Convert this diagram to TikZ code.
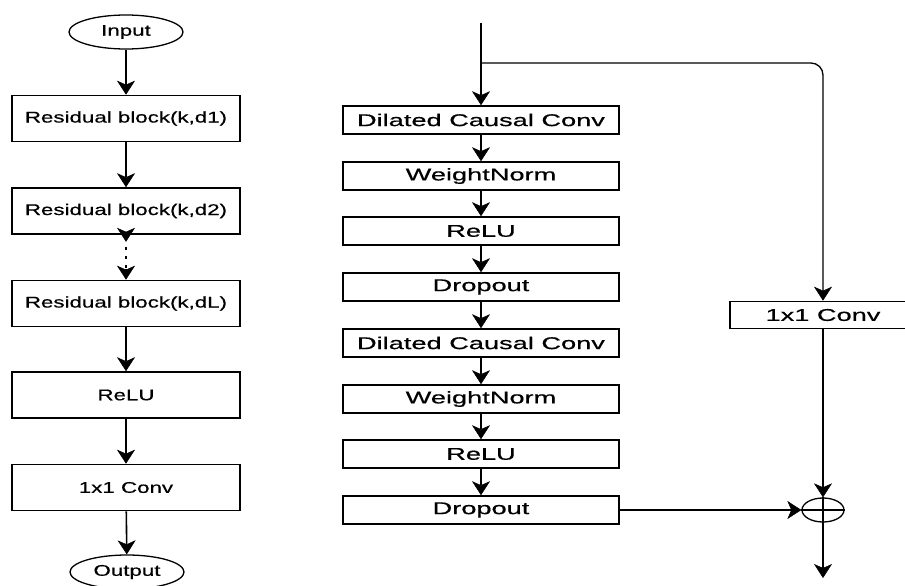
\documentclass[tikz,border=0pt]{standalone}
\usepackage{fontspec}
\setmainfont{Liberation Sans}
\newfontfamily\lfont[FakeStretch=1.44,FakeBold=0.6]{Liberation Sans}
\newfontfamily\mfont[FakeStretch=1.6,FakeBold=0.6]{Liberation Sans}
\usetikzlibrary{arrows.meta,shapes.geometric}
\tikzset{
  lbox/.style={draw, line width=1.6pt, minimum width=228pt, minimum height=46pt, inner sep=0pt,
    font=\lfont\fontsize{15.5}{18}\selectfont},
  lell/.style={draw, ellipse, line width=1.3pt, minimum width=114pt, minimum height=34pt, inner sep=0pt,
    font=\lfont\fontsize{15.5}{18}\selectfont},
  mbox/.style={draw, line width=1.6pt, minimum width=276pt, minimum height=28pt, inner sep=0pt,
    font=\mfont\fontsize{17}{20}\selectfont},
  arr/.style={line width=1.6pt, -{Stealth[length=14pt,width=18pt,inset=4pt,line width=0.5pt]}},
  thinarr/.style={line width=1.3pt, -{Stealth[length=14pt,width=18pt,inset=4pt,line width=0.5pt]}},
}
\begin{document}
\begin{tikzpicture}[x=1pt,y=1pt]
\useasboundingbox (0,0) rectangle (905,-586);
% left column
\node[lell] (in) at (126,-32) {Input};
\node[lbox] (b1) at (126,-118.5) {Residual block(k,d1)};
\node[lbox] (b2) at (126,-211) {Residual block(k,d2)};
\node[lbox] (b3) at (126,-303.5) {Residual block(k,dL)};
\node[lbox] (lr) at (126,-395) {ReLU};
\node[lbox] (lc) at (126,-487.5) {1x1 Conv};
\node[lell] (out) at (127,-572) {Output};
\draw[arr] (in) -- (b1);
\draw[arr] (b1) -- (b2);
\draw[line width=2.2pt, dash pattern=on 3pt off 6pt] ([yshift=-12pt]b2.south) -- ([yshift=-34pt]b2.south);
\draw[arr] (b2.south) -- ++(0,-7);
\draw[arr] ([yshift=-34pt]b2.south) -- (b3.north);
\draw[arr] (b3) -- (lr);
\draw[arr] (lr) -- (lc);
\draw[arr] (lc) -- (out);
% middle column
\node[mbox] (m1) at (481,-120) {Dilated Causal Conv};
\node[mbox] (m2) at (481,-176) {WeightNorm};
\node[mbox] (m3) at (481,-231) {ReLU};
\node[mbox] (m4) at (481,-287) {Dropout};
\node[mbox] (m5) at (481,-343) {Dilated Causal Conv};
\node[mbox] (m6) at (481,-399) {WeightNorm};
\node[mbox] (m7) at (481,-454) {ReLU};
\node[mbox] (m8) at (481,-510) {Dropout};
\coordinate (top) at (481,-23);
\coordinate (split) at (481,-63);
\draw[arr] (top) -- (m1);
\draw[arr] (m1) -- (m2);
\draw[arr] (m2) -- (m3);
\draw[arr] (m3) -- (m4);
\draw[arr] (m4) -- (m5);
\draw[arr] (m5) -- (m6);
\draw[arr] (m6) -- (m7);
\draw[arr] (m7) -- (m8);
% skip branch
\node[draw, line width=1.6pt, minimum width=186pt, minimum height=27pt, inner sep=0pt,
  font=\mfont\fontsize{17}{20}\selectfont] (sk) at (823,-315) {1x1 Conv};
\draw[thinarr, rounded corners=12pt] (split) -| (sk.north);
\node[draw, ellipse, line width=1.3pt, minimum width=42pt, minimum height=24pt, inner sep=0pt] (sum) at (823,-510) {};
\draw[line width=1.3pt] (sum.north) -- (sum.south);
\draw[line width=1.3pt] (sum.west) -- (sum.east);
\draw[thinarr] (sk) -- (sum);
\draw[thinarr] (m8) -- (sum);
\coordinate (end) at (823,-578);
\draw[thinarr] (sum) -- (end);
\end{tikzpicture}
\end{document}
